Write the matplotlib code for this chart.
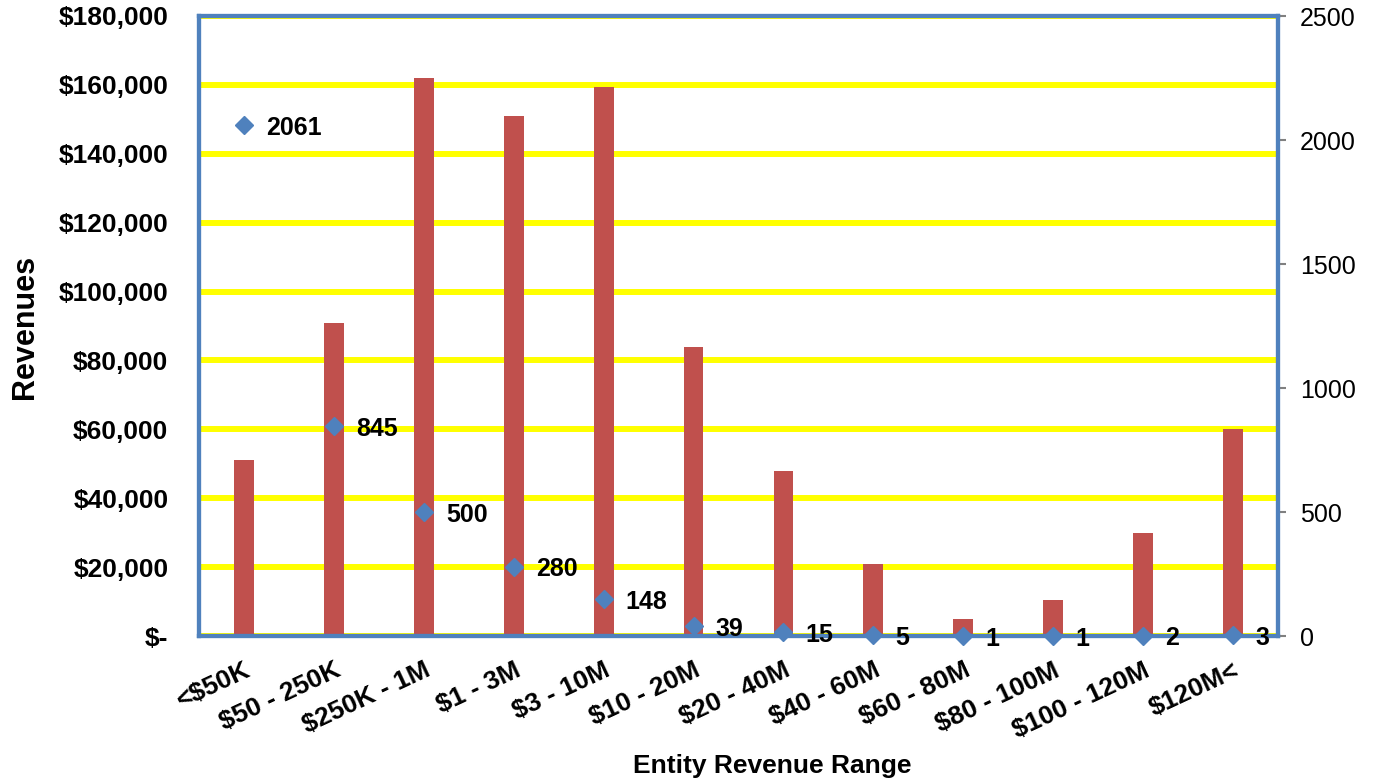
import matplotlib
matplotlib.use("Agg")
import matplotlib.pyplot as plt
import numpy as np
from matplotlib.ticker import FuncFormatter, MultipleLocator

categories = ["<$50K", "$50 - 250K", "$250K - 1M", "$1 - 3M", "$3 - 10M", "$10 - 20M",
              "$20 - 40M", "$40 - 60M", "$60 - 80M", "$80 - 100M", "$100 - 120M", "$120M<"]
revenues = [51000, 91000, 162000, 151000, 159500, 84000, 48000, 21000, 5000, 10500, 30000, 60000]
counts = [2061, 845, 500, 280, 148, 39, 15, 5, 1, 1, 2, 3]

plt.rcParams['font.family'] = ['Liberation Sans', 'DejaVu Sans']

W, H = 1376, 784
fig = plt.figure(figsize=(W/100, H/100), dpi=100)
ax = fig.add_axes([199/W, 1-636/H, (1278-199)/W, (636-16)/H])
x = np.arange(len(categories))

ax.set_xlim(-0.5, len(categories)-0.5)
ax.set_ylim(0, 180000)
ax.yaxis.set_major_locator(MultipleLocator(20000))
ax.grid(axis='y', color='#FFFF00', linewidth=4.3, zorder=0)
ax.set_axisbelow(True)
ax.bar(x, revenues, width=0.22, color='#C0504D', zorder=2)

def money(v, p):
    if v == 0:
        return "$-"
    return "${:,.0f}".format(v)
ax.yaxis.set_major_formatter(FuncFormatter(money))
ax.tick_params(axis='y', length=0, labelsize=19, pad=22)
for lab in ax.get_yticklabels():
    lab.set_fontweight('bold')
ax.set_xticks(x)
ax.set_xticklabels(categories, rotation=25, ha='right', rotation_mode='anchor',
                   fontsize=19, fontweight='bold')
ax.tick_params(axis='x', length=0, pad=16)

for s in ax.spines.values():
    s.set_color('#4F81BD')
    s.set_linewidth(3)

ax2 = ax.twinx()
ax2.set_ylim(0, 2500)
ax2.yaxis.set_major_locator(MultipleLocator(500))
for s in ax2.spines.values():
    s.set_color('#4F81BD')
    s.set_linewidth(3)
    s.set_zorder(2)
ax2.plot(x, counts, linestyle='none', marker='D', markersize=9, color='#4F81BD',
         zorder=4, clip_on=False)
for xi, c in zip(x, counts):
    ax2.annotate(str(c), (xi, c), xytext=(16, -2), textcoords='offset points',
                 ha='left', va='center', fontsize=18, fontweight='bold', color='black',
                 zorder=5)
ax2.tick_params(axis='y', labelsize=18, length=6, color='#808080', width=1.5, pad=10)

fig.text(25/W, 1-327/H, "Revenues", rotation=90, ha='center', va='center',
         fontsize=22, fontweight='bold')
fig.text(772/W, 1-766/H, "Entity Revenue Range", ha='center', va='center',
         fontsize=19, fontweight='bold')

fig.savefig("out.png", dpi=100)
